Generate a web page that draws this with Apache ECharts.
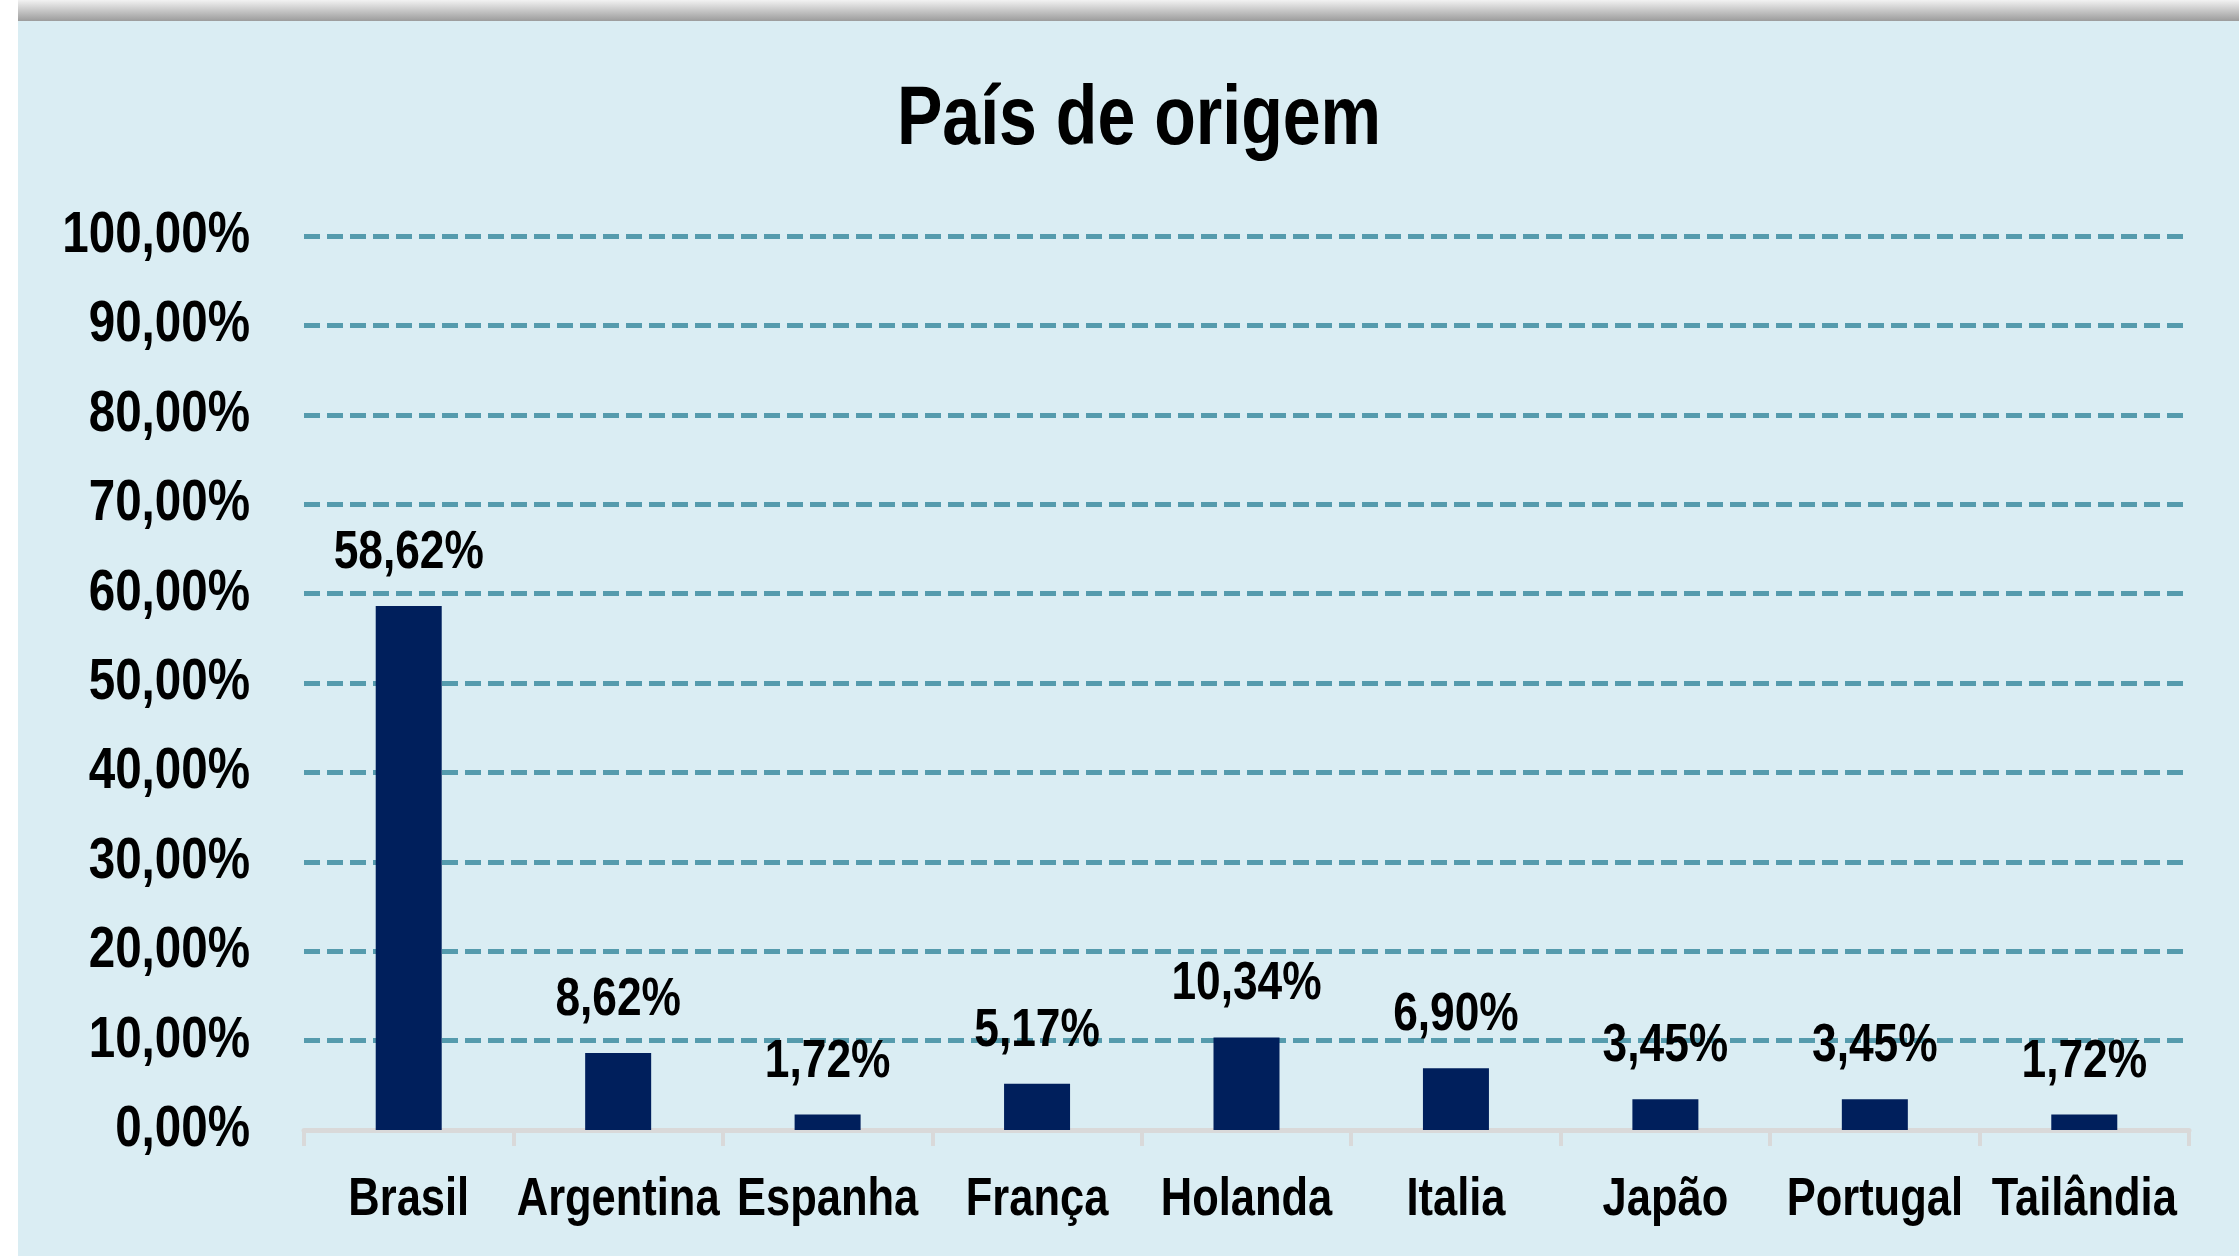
<!DOCTYPE html>
<html>
<head>
<meta charset="utf-8">
<script src="https://cdn.jsdelivr.net/npm/echarts@6/dist/echarts.min.js"></script>
<style>
  html, body { margin: 0; padding: 0; background: #fff; }
  #chart { width: 2239px; height: 1256px; }
</style>
</head>
<body>
<div id="chart"></div>
<script>
// dados do gráfico
const paises = ['Brasil', 'Argentina', 'Espanha', 'França', 'Holanda', 'Italia', 'Japão', 'Portugal', 'Tailândia'];
const percentuais = [58.62, 8.62, 1.72, 5.17, 10.34, 6.90, 3.45, 3.45, 1.72];
const ticksY = [0, 10, 20, 30, 40, 50, 60, 70, 80, 90, 100];
const tituloTexto = 'País de origem';

// fonte estreita (Arial Narrow) simulada com Liberation Sans comprimida
const familia = '"Liberation Sans", Arial, sans-serif';
const estreito = 0.82;

function fmt(v) {
  return v.toFixed(2).replace('.', ',') + '%';
}

function fundo() {
  return [
    {
      type: 'rect', z: -10,
      shape: { x: 18, y: 0, width: 2221, height: 21 },
      style: {
        fill: {
          type: 'linear', x: 0, y: 0, x2: 0, y2: 1,
          colorStops: [
            { offset: 0, color: '#f2f2f2' },
            { offset: 1, color: '#9c9c9c' }
          ]
        }
      }
    },
    {
      type: 'rect', z: -10,
      shape: { x: 18, y: 21, width: 2221, height: 1235 },
      style: { fill: '#DAEDF3' }
    }
  ];
}

function texto(t, x, y, size, align) {
  return {
    type: 'text',
    x: x, y: y,
    scaleX: estreito,
    z: 10,
    style: {
      text: t,
      x: 0, y: 0,
      font: 'bold ' + size + 'px ' + familia,
      fill: '#000',
      align: align,
      verticalAlign: 'middle'
    }
  };
}

var myChart = echarts.init(document.getElementById('chart'));
var option = {
  backgroundColor: '#ffffff',
  animation: false,
  graphic: fundo(),
  grid: {
    left: 304,
    right: 50,
    top: 236,
    bottom: 126,
    containLabel: false
  },
  xAxis: {
    type: 'category',
    data: paises,
    axisLine: { lineStyle: { color: '#D9D9D9', width: 5 } },
    axisTick: { show: true, length: 16, lineStyle: { color: '#D9D9D9', width: 4 } },
    axisLabel: { show: false }
  },
  yAxis: {
    type: 'value',
    min: 0,
    max: 100,
    interval: 10,
    axisLine: { show: false },
    axisTick: { show: false },
    axisLabel: { show: false },
    splitLine: {
      lineStyle: { color: '#559BAD', width: 5, type: [16, 7] }
    }
  },
  series: [
    {
      type: 'bar',
      data: percentuais,
      barWidth: 66,
      itemStyle: { color: '#001F5C' }
    }
  ]
};
option && myChart.setOption(option);

// textos posicionados pelas escalas do próprio gráfico
var els = fundo();
els.push(texto(tituloTexto, 1139, 121, 83, 'center'));
ticksY.forEach(function (v) {
  var p = myChart.convertToPixel({ seriesIndex: 0 }, [0, v]);
  els.push(texto(fmt(v), 250, p[1], 58, 'right'));
});
paises.forEach(function (nome, i) {
  var base = myChart.convertToPixel({ seriesIndex: 0 }, [i, 0]);
  els.push(texto(nome, base[0], base[1] + 70, 53, 'center'));
  var topo = myChart.convertToPixel({ seriesIndex: 0 }, [i, percentuais[i]]);
  els.push(texto(fmt(percentuais[i]), topo[0], topo[1] - 53, 54, 'center'));
});
myChart.setOption({ graphic: els });
</script>
</body>
</html>
